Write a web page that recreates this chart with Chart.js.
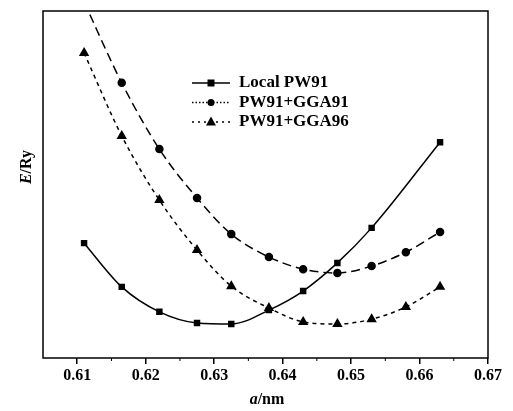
<!DOCTYPE html>
<html>
<head>
<meta charset="utf-8">
<script src="https://cdn.jsdelivr.net/npm/chart.js@4/dist/chart.umd.min.js"></script>
<style>
  html, body { margin: 0; padding: 0; background: #fff; }
  #wrap { width: 513px; height: 411px; }
</style>
</head>
<body>
<div id="wrap"><canvas id="chart" width="513" height="411"></canvas></div>
<script>
// lattice constant a/nm
const latticeA = [0.611, 0.6165, 0.622, 0.6275, 0.6325, 0.638, 0.643, 0.648, 0.653, 0.658, 0.663];
// energies (arbitrary units, no values on the axis)
const localPW91 = [33.1, 20.5, 13.3, 10.1, 9.8, 13.8, 19.3, 27.4, 37.5, null, 62.2];
const gga91 = [102.6, 79.3, 60.2, 46.1, 35.7, 29.1, 25.6, 24.5, 26.5, 30.5, 36.3];
const gga96 = [87.9, 64.0, 45.5, 31.1, 20.7, 14.4, 10.4, 9.8, 11.2, 14.7, 20.5];
const seriesNames = ["Local PW91", "PW91+GGA91", "PW91+GGA96"];
const xTicks = [0.61, 0.62, 0.63, 0.64, 0.65, 0.66, 0.67];
const xMinorTicks = [0.615, 0.625, 0.635, 0.645, 0.655, 0.665];

const SERIF = "'Liberation Serif', 'Times New Roman', serif";

function toPoints(ys) {
  return latticeA.map((a, i) => ({ x: a, y: ys[i] }));
}

// draws a marker like the ones on the lines
function drawMarker(ctx, style, r, x, y) {
  ctx.fillStyle = "#000";
  ctx.beginPath();
  if (style === "rect") {
    ctx.rect(x - r, y - r, 2 * r, 2 * r);
  } else if (style === "circle") {
    ctx.arc(x, y, r, 0, Math.PI * 2);
  } else {
    ctx.moveTo(x, y - r * 1.2);
    ctx.lineTo(x + r * 1.1, y + r * 0.75);
    ctx.lineTo(x - r * 1.1, y + r * 0.75);
    ctx.closePath();
  }
  ctx.fill();
}

// frame round the plot + minor ticks
const framePlugin = {
  id: "frame",
  afterDraw(chart) {
    const { ctx, chartArea: ca } = chart;
    const xs = chart.scales.x;
    ctx.save();
    ctx.strokeStyle = "#000";
    ctx.lineWidth = 1.5;
    ctx.strokeRect(ca.left, ca.top, ca.right - ca.left, ca.bottom - ca.top);
    ctx.lineWidth = 1;
    xMinorTicks.forEach(v => {
      const px = xs.getPixelForValue(v);
      ctx.beginPath();
      ctx.moveTo(px, ca.bottom);
      ctx.lineTo(px, ca.bottom + 3);
      ctx.stroke();
    });
    ctx.restore();
  }
};

// legend inside the plot
const legendPlugin = {
  id: "innerLegend",
  afterDraw(chart) {
    const ctx = chart.ctx;
    ctx.save();
    chart.data.datasets.forEach((ds, i) => {
      const y = 83 + i * 19.5;
      ctx.strokeStyle = "#000";
      ctx.lineWidth = 1.5;
      ctx.setLineDash(ds.legendDash);
      ctx.beginPath();
      ctx.moveTo(192, y);
      ctx.lineTo(230, y);
      ctx.stroke();
      ctx.setLineDash([]);
      drawMarker(ctx, ds.pointStyle, ds.pointRadius, 211, y);
      ctx.fillStyle = "#000";
      ctx.font = "bold 17px " + SERIF;
      ctx.textBaseline = "middle";
      ctx.textAlign = "left";
      ctx.fillText(ds.label, 239, y);
    });
    ctx.restore();
  }
};

// axis titles with the italic symbol
const titlePlugin = {
  id: "axisTitles",
  afterDraw(chart) {
    const ctx = chart.ctx;
    ctx.save();
    ctx.fillStyle = "#000";
    ctx.textBaseline = "middle";
    ctx.textAlign = "left";
    const it = "italic bold 16px " + SERIF;
    const bd = "bold 16px " + SERIF;

    // x title: a/nm
    ctx.font = it; const w1 = ctx.measureText("a").width;
    ctx.font = bd; const w2 = ctx.measureText("/nm").width;
    let x0 = 267 - (w1 + w2) / 2;
    ctx.font = it; ctx.fillText("a", x0, 400);
    ctx.font = bd; ctx.fillText("/nm", x0 + w1, 400);

    // y title: E/Ry
    ctx.translate(27, 167);
    ctx.rotate(-Math.PI / 2);
    ctx.font = it; const w3 = ctx.measureText("E").width;
    ctx.font = bd; const w4 = ctx.measureText("/Ry").width;
    x0 = -(w3 + w4) / 2;
    ctx.font = it; ctx.fillText("E", x0, 0);
    ctx.font = bd; ctx.fillText("/Ry", x0 + w3, 0);
    ctx.restore();
  }
};

const ctx = document.getElementById("chart").getContext("2d");
new Chart(ctx, {
  type: "line",
  data: {
    datasets: [
      {
        label: seriesNames[0],
        data: toPoints(localPW91),
        borderColor: "#000",
        backgroundColor: "#000",
        borderWidth: 1.5,
        pointStyle: "rect",
        pointRadius: 3.5,
        legendDash: [],
        spanGaps: true,
        cubicInterpolationMode: "monotone"
      },
      {
        label: seriesNames[1],
        data: toPoints(gga91),
        borderColor: "#000",
        backgroundColor: "#000",
        borderWidth: 1.5,
        borderDash: [9, 5],
        pointStyle: "circle",
        pointRadius: 3.5,
        legendDash: [1.5, 2],
        cubicInterpolationMode: "monotone"
      },
      {
        label: seriesNames[2],
        data: toPoints(gga96),
        borderColor: "#000",
        backgroundColor: "#000",
        borderWidth: 1.5,
        borderDash: [4, 4],
        pointStyle: "triangle",
        pointRadius: 4.5,
        legendDash: [2, 4],
        cubicInterpolationMode: "monotone"
      }
    ]
  },
  options: {
    responsive: false,
    animation: false,
    devicePixelRatio: 1,
    layout: { padding: { left: 0, right: 25, top: 11, bottom: 0 } },
    plugins: {
      legend: { display: false },
      tooltip: { enabled: false }
    },
    scales: {
      x: {
        type: "linear",
        min: 0.605,
        max: 0.67,
        afterBuildTicks: scale => { scale.ticks = xTicks.map(v => ({ value: v })); },
        afterFit: scale => { scale.height = 53; },
        border: { display: false },
        grid: {
          drawOnChartArea: false,
          drawTicks: true,
          tickLength: 6,
          color: "#000",
          lineWidth: 1.5
        },
        ticks: {
          color: "#000",
          padding: 2,
          maxRotation: 0,
          font: { family: SERIF, size: 16, weight: "bold" },
          callback: v => v.toFixed(2)
        }
      },
      y: {
        type: "linear",
        min: 0,
        max: 100,
        afterFit: scale => { scale.width = 43; },
        border: { display: false },
        grid: { display: false },
        ticks: { display: false }
      }
    }
  },
  plugins: [framePlugin, legendPlugin, titlePlugin]
});
</script>
</body>
</html>
